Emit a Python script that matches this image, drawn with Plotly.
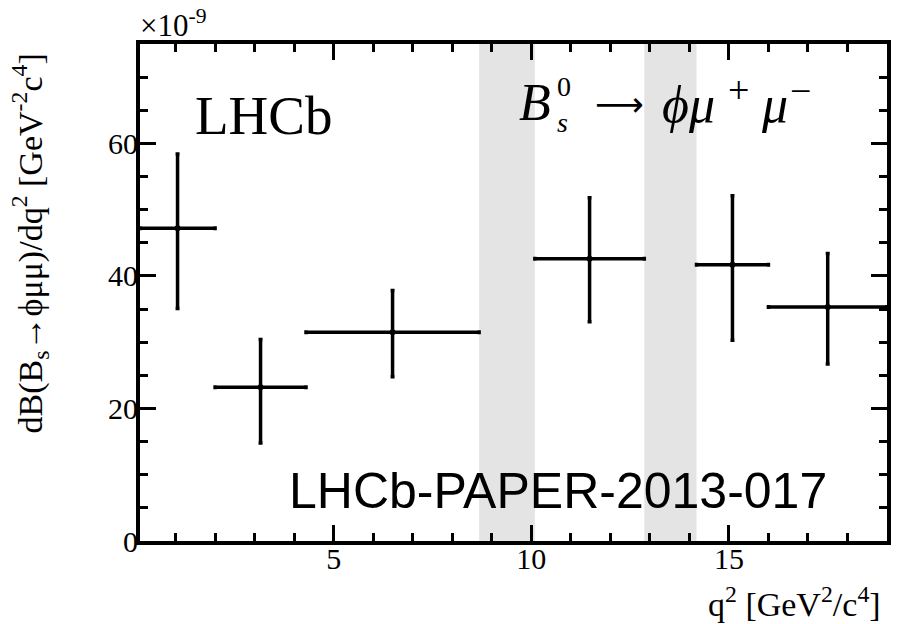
import plotly.graph_objects as go

# q^2 bins [GeV^2/c^4] and differential branching fraction (x 1e-9 GeV^-2 c^4)
bin_lo = [0.1, 2.0, 4.3, 10.09, 14.18, 16.0]
bin_hi = [2.0, 4.3, 8.68, 12.86, 16.0, 19.0]
dbdq2 = [47.2, 23.2, 31.5, 42.6, 41.7, 35.3]
err_up = [11.2, 7.2, 6.3, 9.2, 10.4, 8.1]
err_dn = [12.1, 8.4, 6.7, 9.5, 11.4, 8.6]

# charmonium veto regions
veto_lo = [8.68, 12.86]
veto_hi = [10.09, 14.18]

x_range = [0.1, 19.0]
y_range = [0, 75]
x_ticks = [5, 10, 15]
y_ticks = [0, 20, 40, 60]

centers = [(a + b) / 2 for a, b in zip(bin_lo, bin_hi)]
half_lo = [c - a for c, a in zip(centers, bin_lo)]
half_hi = [b - c for c, b in zip(centers, bin_hi)]

SERIF = "Liberation Serif"
SANS = "Liberation Sans"

# plot frame in pixels (used to place labels in paper coordinates)
W, H = 903, 624
L, R, T, B = 140, 890, 44, 541


def px(x):
    return (x - L) / (R - L)


def py(y):
    return (B - y) / (B - T)


fig = go.Figure()

fig.add_trace(go.Scatter(
    x=centers, y=dbdq2, mode="markers",
    marker=dict(color="black", size=6, symbol="circle"),
    error_x=dict(type="data", symmetric=False, array=half_hi, arrayminus=half_lo,
                 color="black", thickness=3.5, width=2),
    error_y=dict(type="data", symmetric=False, array=err_up, arrayminus=err_dn,
                 color="black", thickness=3.5, width=2),
    showlegend=False,
))

for lo, hi in zip(veto_lo, veto_hi):
    fig.add_shape(type="rect", xref="x", yref="paper", x0=lo, x1=hi, y0=0, y1=1,
                  fillcolor="#e4e4e4", line=dict(width=0), layer="below")


def axis(rng, ticks, minor_step, standoff):
    return dict(
        range=rng, tickmode="array", tickvals=ticks, ticktext=[str(t) for t in ticks],
        showline=True, linecolor="black", linewidth=4, mirror="ticks",
        ticks="inside", ticklen=16, tickwidth=3, tickcolor="black",
        showgrid=False, zeroline=False, ticklabelstandoff=standoff,
        tickfont=dict(family="Liberation Serif, Times New Roman, serif", size=30, color="black"),
        minor=dict(dtick=minor_step, tick0=0, ticks="inside", ticklen=8, tickwidth=3,
                   tickcolor="black", showgrid=False),
    )


def label(text, x, y, size, family=SERIF, xanchor="center", yanchor="middle", angle=0,
          align="center"):
    return dict(text=text, x=x, y=y, xref="paper", yref="paper", showarrow=False,
                xanchor=xanchor, yanchor=yanchor, textangle=angle, align=align,
                font=dict(family=family, size=size, color="black"))


annotations = [
    label("×10<sup>-9</sup>", px(138), py(24), 31, xanchor="left"),
    label("LHCb", px(264), py(115), 55),
    # B_s^0 -> phi mu+ mu-
    label("<i>B</i>", px(555), py(102), 52, xanchor="right"),
    label("0<br><i>s</i>", px(557), py(104), 28, xanchor="left", align="left"),
    label("⟶", px(621), py(104), 34, family="DejaVu Sans"),
    label("<i>ϕμ</i>", px(662), py(104), 52, xanchor="left"),
    label("+", px(741), py(90), 38),
    label("<i>μ</i>", px(761), py(104), 52, xanchor="left"),
    label("−", px(803), py(91), 38),
    label("LHCb-PAPER-2013-017", px(560), py(491), 50, family=SANS),
    label("q<sup>2</sup> [GeV<sup>2</sup>/c<sup>4</sup>]", px(886), py(602), 34, xanchor="right"),
    label("dB(B<sub>s</sub>→ϕμμ)/dq<sup>2</sup> [GeV<sup>-2</sup>c<sup>4</sup>]",
          px(30), py(243), 34, angle=-90),
]

fig.update_layout(
    width=W, height=H,
    margin=dict(l=L, r=W - R, t=T, b=H - B),
    font=dict(family=SERIF, size=30, color="black"),
    plot_bgcolor="white", paper_bgcolor="white",
    xaxis=axis(x_range, x_ticks, 1, -12),
    yaxis=axis(y_range, y_ticks, 5, -8),
    annotations=annotations,
)

fig.write_html("out.html")
